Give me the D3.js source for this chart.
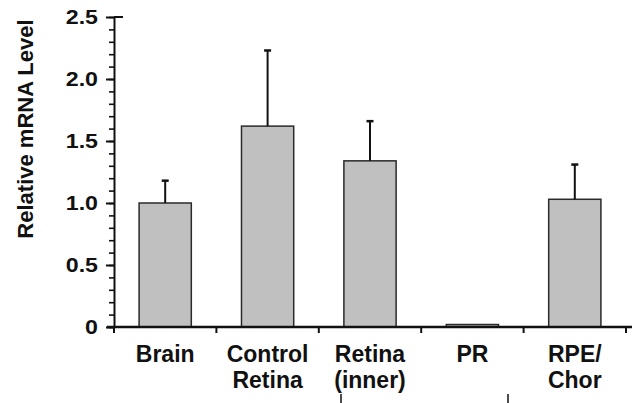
<!DOCTYPE html>
<html lang="en">
<head>
  <meta charset="UTF-8">
  <title>Relative mRNA Level</title>
  <style>
    body { margin: 0; background: #fff; }
    text { font-family: "Liberation Sans", Arial, sans-serif; font-weight: bold; fill: #111; }
  </style>
</head>
<body>
  <div id="chart"></div>

  <script src="https://d3js.org/d3.v7.min.js"></script>
  <script>
    // data
    const categories = ["Brain", "Control\nRetina", "Retina\n(inner)", "PR", "RPE/\nChor"]
    const values = [1.00, 1.62, 1.34, 0.02, 1.03]
    const errors = [0.18, 0.61, 0.32, 0, 0.28]
    const yTicks = [0, 0.5, 1.0, 1.5, 2.0, 2.5]
    const yMinorTicks = d3.range(0, 26).map(i => i / 10)

    const data = categories.map((c, i) => ({ cat: c, value: values[i], err: errors[i] }))

    const W = 638, H = 403
    const svg = d3.select("#chart").append("svg")
      .attr("width", W)
      .attr("height", H)

    // scales
    const x = d3.scaleBand()
      .domain(categories)
      .range([114, 626])
      .paddingInner(0)

    const y = d3.scaleLinear()
      .domain([0, 2.5])
      .range([327, 17])

    // y axis, minor ticks first
    svg.append("g")
      .attr("transform", "translate(114,0)")
      .call(d3.axisLeft(y).tickValues(yMinorTicks).tickSize(5).tickFormat(""))
      .call(g => g.select(".domain").remove())
      .call(g => g.selectAll("line").attr("stroke", "#111").attr("stroke-width", 1.6))

    svg.append("g")
      .attr("transform", "translate(114,0)")
      .call(d3.axisLeft(y).tickValues(yTicks).tickSize(8).tickSizeOuter(0)
        .tickFormat(d => d === 0 ? "0" : d.toFixed(1)))
      .call(g => g.select(".domain").attr("stroke", "#111").attr("stroke-width", 2))
      .call(g => g.selectAll("line").attr("stroke", "#111").attr("stroke-width", 2))
      .call(g => g.selectAll("text")
        .attr("x", 0)
        .attr("transform", "translate(-16,0) scale(1.16,1)")
        .attr("font-size", "20px")
        .attr("font-family", "'Liberation Sans', Arial, sans-serif")
        .attr("font-weight", "bold")
        .attr("fill", "#111"))

    // the top tick crosses the axis
    svg.append("line")
      .attr("x1", 114).attr("x2", 123)
      .attr("y1", y(2.5)).attr("y2", y(2.5))
      .attr("stroke", "#111").attr("stroke-width", 2)

    // y title
    svg.append("text")
      .attr("transform", "translate(33,129) rotate(-90)")
      .attr("text-anchor", "middle")
      .attr("font-size", "22px")
      .text("Relative mRNA Level")

    // bars
    const bw = x.bandwidth() * 0.51
    svg.append("g").selectAll("rect")
      .data(data)
      .join("rect")
      .attr("x", d => x(d.cat) + (x.bandwidth() - bw) / 2)
      .attr("y", d => y(d.value))
      .attr("width", bw)
      .attr("height", d => y(0) - y(d.value))
      .attr("fill", "#c0c0c0")
      .attr("stroke", "#2a2a2a")
      .attr("stroke-width", 1.5)

    // error bars (upper only)
    const eb = svg.append("g").selectAll("g")
      .data(data.filter(d => d.err > 0))
      .join("g")
    eb.append("line")
      .attr("x1", d => x(d.cat) + x.bandwidth() / 2)
      .attr("x2", d => x(d.cat) + x.bandwidth() / 2)
      .attr("y1", d => y(d.value))
      .attr("y2", d => y(d.value + d.err))
      .attr("stroke", "#111")
      .attr("stroke-width", 2)
    eb.append("line")
      .attr("x1", d => x(d.cat) + x.bandwidth() / 2 - 3.5)
      .attr("x2", d => x(d.cat) + x.bandwidth() / 2 + 3.5)
      .attr("y1", d => y(d.value + d.err))
      .attr("y2", d => y(d.value + d.err))
      .attr("stroke", "#111")
      .attr("stroke-width", 2.5)

    // x axis
    const xAxis = svg.append("g")
      .attr("transform", `translate(0,${y(0)})`)
    xAxis.append("line")
      .attr("x1", 107).attr("x2", 632)
      .attr("stroke", "#111").attr("stroke-width", 2.5)
    xAxis.selectAll(".xt")
      .data(categories.concat([null]))
      .join("line")
      .attr("class", "xt")
      .attr("x1", d => d === null ? x.range()[1] : x(d))
      .attr("x2", d => d === null ? x.range()[1] : x(d))
      .attr("y1", 0).attr("y2", 6)
      .attr("stroke", "#111").attr("stroke-width", 2)

    // category labels
    const lbl = svg.append("g").selectAll("text")
      .data(categories)
      .join("text")
      .attr("text-anchor", "middle")
      .attr("font-size", "23px")
      .attr("x", d => x(d) + x.bandwidth() / 2)
      .attr("y", 362)
    lbl.selectAll("tspan")
      .data(d => d.split("\n").map(t => ({ t, cx: x(d) + x.bandwidth() / 2 })))
      .join("tspan")
      .attr("x", d => d.cx)
      .attr("dy", (d, i) => i === 0 ? 0 : 26)
      .text(d => d.t)

    // cropped bracket at the bottom edge
    svg.append("g").selectAll("line")
      .data([341, 508])
      .join("line")
      .attr("x1", d => d).attr("x2", d => d)
      .attr("y1", 394).attr("y2", 403)
      .attr("stroke", "#111").attr("stroke-width", 1.5)
  </script>
</body>
</html>
